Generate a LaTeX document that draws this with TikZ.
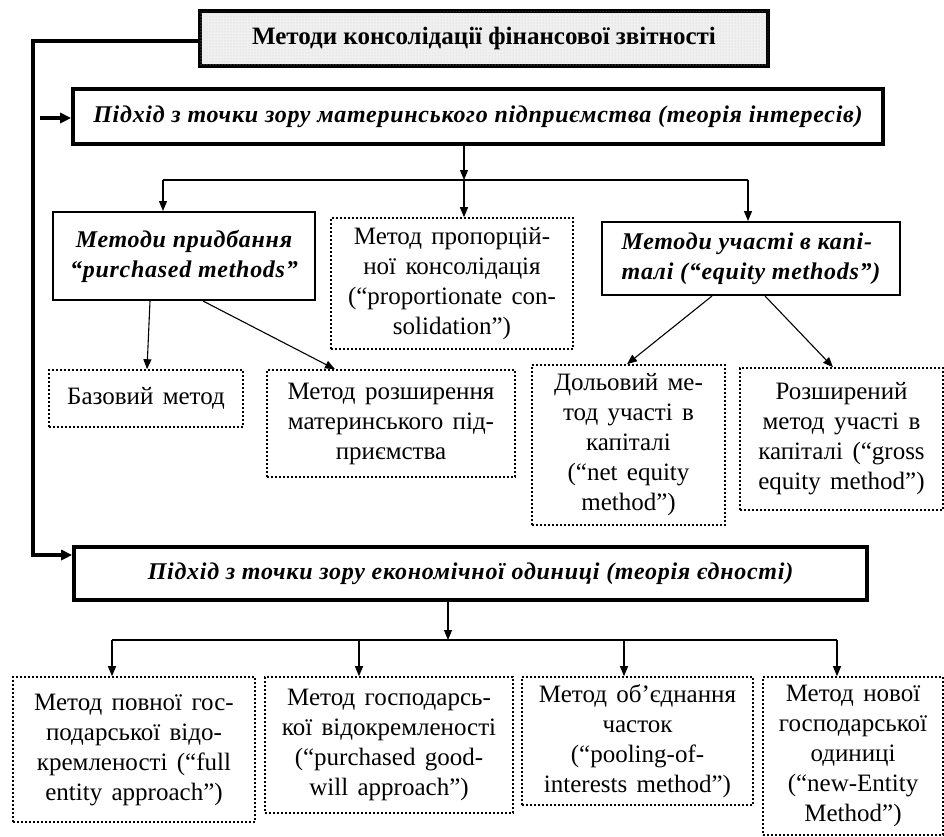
\documentclass[tikz,border=0pt]{standalone}
\usepackage{fontspec}
\setmainfont{Liberation Serif}
\newfontfamily\spacedfont[LetterSpace=3]{Liberation Serif}
\newfontfamily\bodyfont[WordSpace=1.5]{Liberation Serif}
\usetikzlibrary{arrows.meta,patterns}

\begin{document}
\begin{tikzpicture}[x=1pt,y=-1pt,
  box/.style={inner sep=0pt, align=center,
    font=\bodyfont\fontsize{25}{30}\selectfont},
  heavybox/.style={box, draw, line width=3.6pt,
    font=\spacedfont\bfseries\itshape\fontsize{24}{28}\selectfont},
  framebox/.style={box, draw, line width=2pt,
    font=\spacedfont\bfseries\itshape\fontsize{24}{30}\selectfont},
  dotbox/.style={box, draw, line width=1.6pt, dash pattern=on 1.6pt off 2.4pt},
  link/.style={line width=1.1pt, -{Triangle[length=10pt,width=8pt]}},
  bar/.style={line width=1.1pt},
  feed/.style={line width=3.4pt, -{Triangle[length=11pt,width=10pt]}},
]
\useasboundingbox (0,0) rectangle (944,836);

% title
\node[heavybox, font=\bfseries\fontsize{25}{28}\selectfont,
      fill=black!6, postaction={pattern=dots, pattern color=gray!40},
      minimum width=568pt, minimum height=55pt] (top) at (484,38.5)
  {Методи консолідації фінансової звітності};

% first approach and its methods
\node[heavybox, minimum width=810pt, minimum height=55pt] (app1) at (478,116.5)
  {Підхід з точки зору материнського підприємства (теорія інтересів)};

\node[framebox, minimum width=262pt, minimum height=88pt] (purch) at (184,256)
  {Методи придбання\\“purchased methods”};
\node[dotbox, minimum width=242pt, minimum height=131pt] (prop) at (452,283.5)
  {Метод пропорцій-\\ної консолідація\\(“proportionate con-\\solidation”)};
\node[framebox, align=left, minimum width=298pt, minimum height=73pt] (equity) at (751,258.5)
  {Методи участі в капі-\\талі (“equity methods”)};

\node[dotbox, minimum width=194pt, minimum height=57pt] (base) at (146,398.5)
  {Базовий метод};
\node[dotbox, minimum width=248pt, minimum height=107pt] (ext) at (391,423.5)
  {Метод розширення\\материнського під-\\приємства};
\node[dotbox, minimum width=193pt, minimum height=160pt] (net) at (628.5,445)
  {Дольовий ме-\\тод участі в\\капіталі\\(“net equity\\method”)};
\node[dotbox, minimum width=203pt, minimum height=142pt] (gross) at (841.5,439)
  {Розширений\\метод участі в\\капіталі (“gross\\equity method”)};

% second approach and its methods
\node[heavybox, minimum width=793pt, minimum height=53pt] (app2) at (470.5,573.5)
  {Підхід з точки зору економічної одиниці (теорія єдності)};

\node[dotbox, minimum width=242pt, minimum height=145pt] (b1) at (134,749.5)
  {Метод повної гос-\\подарської відо-\\кремленості (“full\\entity approach”)};
\node[dotbox, minimum width=248pt, minimum height=136pt] (b2) at (389,745)
  {Метод господарсь-\\кої відокремленості\\(“purchased good-\\will approach”)};
\node[dotbox, minimum width=231pt, minimum height=128pt] (b3) at (637.5,741)
  {Метод об’єднання\\часток\\(“pooling-of-\\interests method”)};
\node[dotbox, minimum width=180pt, minimum height=158pt] (b4) at (853,756)
  {Метод нової\\господарської\\одиниці\\(“new-Entity\\Method”)};

% rail from the title down the left side
\coordinate (railtop) at (33,41);
\coordinate (railbot) at (33,555);
\coordinate (tap) at (40,118);
\draw[feed] (railtop -| top.west) -- (railtop) -- (railbot) -- (railbot -| app2.west);
\draw[feed] (tap) -- (tap -| app1.west);

% branching under the first approach
\coordinate (s1) at (464,180);
\coordinate (s1l) at (163,180);
\coordinate (s1r) at (748,180);
\draw[link] (app1.south -| s1) -- (s1);
\draw[bar] (s1l) -- (s1r);
\draw[link] (s1l) -- (s1l |- purch.north);
\draw[link] (s1) -- (s1 |- prop.north);
\draw[link] (s1r) -- (s1r |- equity.north);

\draw[link] ([xshift=-34pt]purch.south) -- ([xshift=1pt]base.north);
\draw[link] ([xshift=19pt]purch.south) -- ([xshift=-56pt]ext.north);
\draw[link] ([xshift=-39pt]equity.south) -- ([xshift=-1.5pt]net.north);
\draw[link] ([xshift=14pt]equity.south) -- ([xshift=-8.5pt]gross.north);

% branching under the second approach
\coordinate (s2) at (448,640);
\coordinate (s2a) at (112,640);
\coordinate (s2b) at (359,640);
\coordinate (s2c) at (624,640);
\coordinate (s2d) at (837,640);
\draw[link] (app2.south -| s2) -- (s2);
\draw[bar] (s2a) -- (s2d);
\draw[link] (s2a) -- (s2a |- b1.north);
\draw[link] (s2b) -- (s2b |- b2.north);
\draw[link] (s2c) -- (s2c |- b3.north);
\draw[link] (s2d) -- (s2d |- b4.north);
\end{tikzpicture}
\end{document}
